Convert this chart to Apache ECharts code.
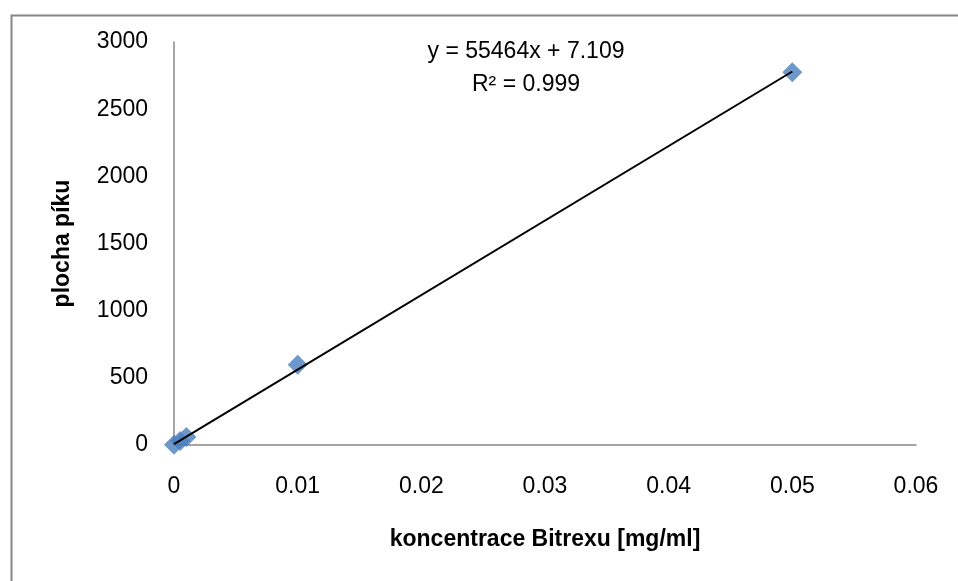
<!DOCTYPE html>
<html>
<head>
<meta charset="utf-8">
<script src="https://cdn.jsdelivr.net/npm/echarts@6/dist/echarts.min.js"></script>
<style>html,body{margin:0;padding:0;background:#fff}#c{width:958px;height:581px}</style>
</head>
<body>
<div id="c"></div>
<script>
const xValues = [0, 0.0005, 0.001, 0.01, 0.05];
const yValues = [2, 30, 60, 598, 2775];
const slope = 55464;
const intercept = 7.109;
const eqLine1 = 'y = 55464x + 7.109';
const eqLine2 = 'R² = 0.999';
const xTitle = 'koncentrace Bitrexu [mg/ml]';
const yTitle = 'plocha píku';

const FONT = 'Liberation Sans';
const pts = xValues.map((x, i) => [x, yValues[i]]);
const xMin = Math.min(...xValues), xMax = Math.max(...xValues);
const trend = [[xMin, slope * xMin + intercept], [xMax, slope * xMax + intercept]];

const chart = echarts.init(document.getElementById('c'), null, {renderer: 'canvas'});
chart.setOption({
  animation: false,
  backgroundColor: '#fff',
  grid: {left: 174, right: 42, top: 42, bottom: 136, containLabel: false},
  xAxis: {
    type: 'value', min: 0, max: 0.06, interval: 0.01,
    axisLine: {show: true, onZero: false, lineStyle: {color: '#888', width: 1.5}},
    axisTick: {show: false},
    splitLine: {show: false},
    axisLabel: {color: '#000', fontFamily: FONT, fontSize: 23, margin: 30,
      formatter: v => String(+v.toFixed(2))},
    name: xTitle, nameLocation: 'middle', nameGap: 83,
    nameTextStyle: {color: '#000', fontFamily: FONT, fontSize: 23, fontWeight: 'bold'}
  },
  yAxis: {
    type: 'value', min: 0, max: 3000, interval: 500,
    axisLine: {show: true, lineStyle: {color: '#888', width: 1.5}},
    axisTick: {show: false},
    splitLine: {show: false},
    axisLabel: {color: '#000', fontFamily: FONT, fontSize: 23, margin: 26,
      formatter: v => String(v)},
    name: yTitle, nameLocation: 'middle', nameGap: 100,
    nameTextStyle: {color: '#000', fontFamily: FONT, fontSize: 23, fontWeight: 'bold'}
  },
  graphic: [
    {type: 'rect', left: 9, top: 13, shape: {width: 1000, height: 1000},
      style: {fill: 'none', stroke: '#868686', lineWidth: 2}, silent: true, z: -1},
    {type: 'text', x: 526, y: 52, style: {text: eqLine1, fill: '#000', font: '23px "' + FONT + '"', textAlign: 'center', textVerticalAlign: 'middle'}},
    {type: 'text', x: 526, y: 85, style: {text: eqLine2, fill: '#000', font: '23px "' + FONT + '"', textAlign: 'center', textVerticalAlign: 'middle'}}
  ],
  series: [
    {type: 'line', data: trend, symbol: 'none', lineStyle: {color: '#000', width: 2}, z: 3, silent: true},
    {type: 'scatter', data: pts, symbol: 'diamond', symbolSize: 20,
      itemStyle: {color: '#4A7EBB'}, z: 2}
  ]
});
</script>
</body>
</html>
